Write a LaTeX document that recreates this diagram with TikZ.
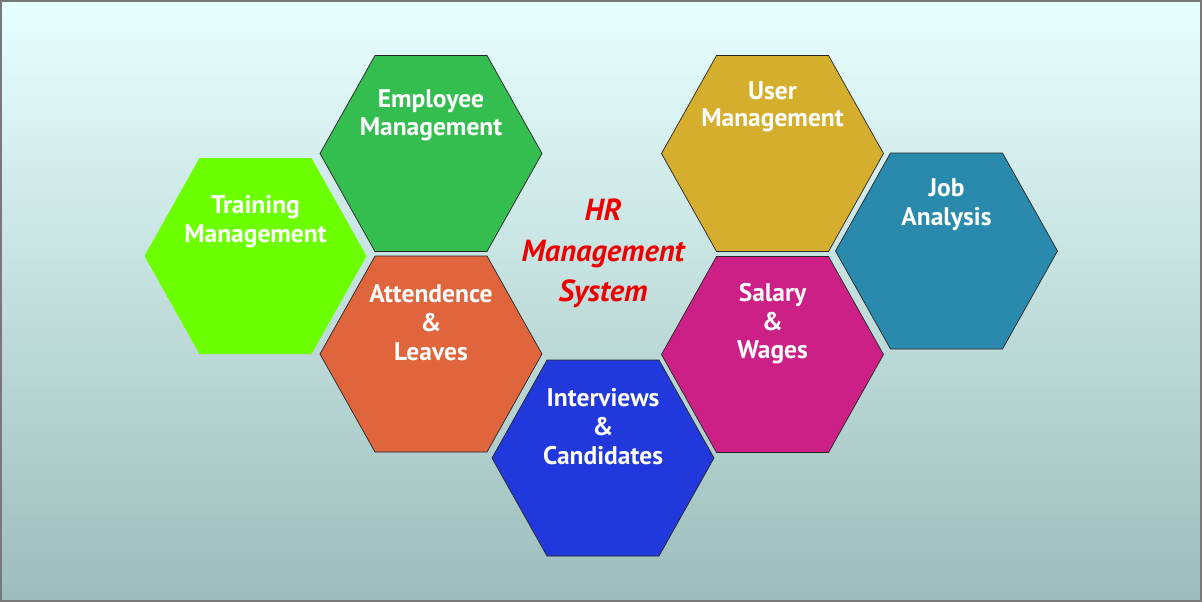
\documentclass[tikz,border=0pt]{standalone}
\usepackage{fontspec}
\setmainfont{PT Sans}
\usetikzlibrary{calc}
\definecolor{bgtop}{RGB}{232,255,255}
\definecolor{bgbot}{RGB}{155,189,187}
\definecolor{frame}{RGB}{120,120,120}
\definecolor{clime}{RGB}{108,255,0}
\definecolor{cgreen}{RGB}{53,190,80}
\definecolor{corange}{RGB}{224,100,60}
\definecolor{cblue}{RGB}{33,57,220}
\definecolor{cgold}{RGB}{214,174,46}
\definecolor{cmagenta}{RGB}{204,32,135}
\definecolor{cteal}{RGB}{42,138,173}
\definecolor{ctitle}{RGB}{238,0,0}
\tikzset{
  hexline/.style={draw=black!85, line width=0.7pt},
  lbl/.style={text=white, font=\bfseries\fontsize{25.5}{28}\selectfont, anchor=base, inner sep=0pt},
  ttl/.style={text=ctitle, font=\bfseries\itshape\fontsize{30.5}{41}\selectfont, anchor=base, inner sep=0pt},
}
\newcommand\hexshape[4]{%
  \coordinate (#1) at (#2,#3);
  \path[#4] ($(#1)+(-111,0)$) -- ($(#1)+(-56,-98)$) -- ($(#1)+(56,-98)$)
     -- ($(#1)+(111,0)$) -- ($(#1)+(56,98)$) -- ($(#1)+(-56,98)$) -- cycle;
}
\begin{document}
\begin{tikzpicture}[x=1pt,y=-1pt]
\useasboundingbox (0,0) rectangle (1202,602);
\shade[top color=bgtop, bottom color=bgbot] (0,0) rectangle (1202,602);
\draw[frame, line width=2pt] (1,1) rectangle (1201,601);

\hexshape{training}{255.5}{256}{fill=clime}
\hexshape{employee}{431}{153.5}{fill=cgreen, hexline}
\hexshape{attend}{431}{354}{fill=corange, hexline}
\hexshape{interview}{603}{458}{fill=cblue, hexline}
\hexshape{user}{772.5}{153.5}{fill=cgold, hexline}
\hexshape{salary}{772.5}{354.5}{fill=cmagenta, hexline}
\hexshape{job}{946.5}{251}{fill=cteal, hexline}

\node[lbl] (training-a) at (255.5,213) {Training};
\node[lbl] (training-b) at (255.5,242) {Management};
\node[lbl] (employee-a) at (431,107.7) {Employee};
\node[lbl] (employee-b) at (431,135.7) {Management};
\node[lbl] (attend-a) at (431,302.3) {Attendence};
\node[lbl] (attend-b) at (431,331) {\&};
\node[lbl] (attend-c) at (431,360) {Leaves};
\node[lbl] (interview-a) at (603,406.7) {Interviews};
\node[lbl] (interview-b) at (603,435) {\&};
\node[lbl] (interview-c) at (603,464.3) {Candidates};
\node[lbl] (user-a) at (772.5,99.3) {User};
\node[lbl] (user-b) at (772.5,126.7) {Management};
\node[lbl] (salary-a) at (772.5,301.7) {Salary};
\node[lbl] (salary-b) at (772.5,330) {\&};
\node[lbl] (salary-c) at (772.5,358.3) {Wages};
\node[lbl] (job-a) at (946.5,196.7) {Job};
\node[lbl] (job-b) at (946.5,225) {Analysis};

\node[ttl] (title-a) at (603,220) {HR};
\node[ttl] (title-b) at (603,261.7) {Management};
\node[ttl] (title-c) at (603,301.7) {System};
\end{tikzpicture}
\end{document}
